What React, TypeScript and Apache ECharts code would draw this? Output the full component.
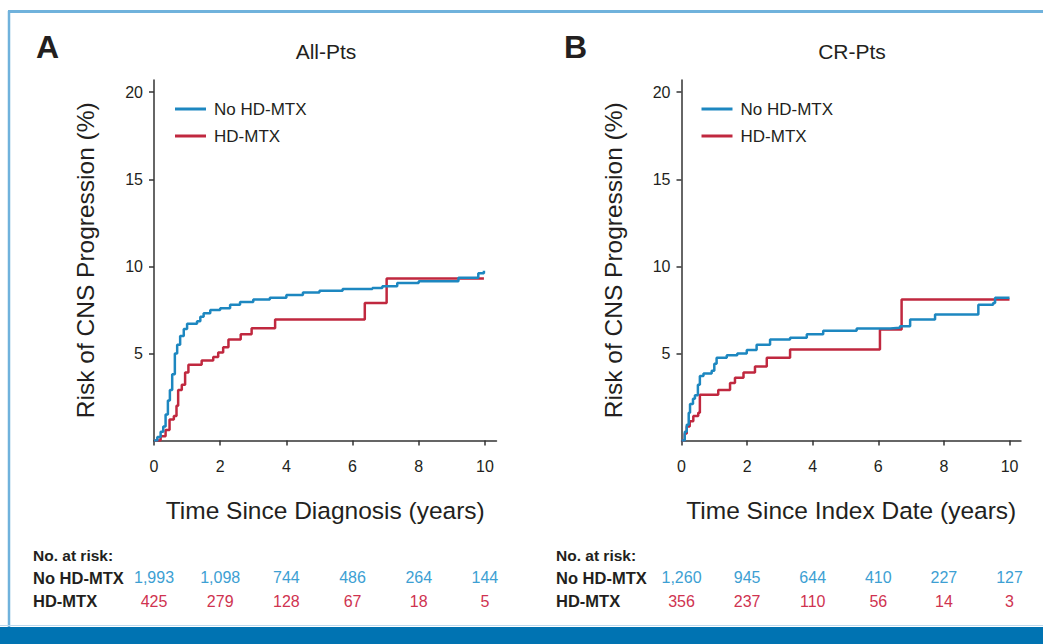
import React, { useEffect, useRef } from 'react';
import * as echarts from 'echarts';

const xTicks = [0, 2, 4, 6, 8, 10];
const yTicks = [5, 10, 15, 20];
const seriesNames = ['No HD-MTX', 'HD-MTX'];
const panelTitles = ['All-Pts', 'CR-Pts'];
const panelLetters = ['A', 'B'];
const xAxisNames = ['Time Since Diagnosis (years)', 'Time Since Index Date (years)'];
const yAxisName = 'Risk of CNS Progression (%)';

// Panel A: cumulative incidence (%) step points [years, %]
const noHdA = [
  [0, 0], [0.1, 0.2], [0.2, 0.5], [0.28, 0.8], [0.35, 1.5], [0.42, 2.3], [0.48, 2.9],
  [0.55, 3.8], [0.63, 5.0], [0.7, 5.5], [0.79, 6.0], [0.9, 6.4], [1.0, 6.7], [1.3, 6.85],
  [1.4, 7.1], [1.5, 7.3], [1.7, 7.5], [2.0, 7.6], [2.3, 7.8], [2.6, 7.95], [3.0, 8.1],
  [3.5, 8.2], [4.0, 8.35], [4.5, 8.5], [5.0, 8.6], [5.7, 8.7], [6.6, 8.75], [6.9, 8.85],
  [7.35, 9.05], [8.0, 9.15], [9.2, 9.35], [9.8, 9.6], [9.97, 9.75],
];
const hdA = [
  [0, 0], [0.2, 0.25], [0.35, 0.6], [0.47, 1.2], [0.6, 1.4], [0.68, 2.0], [0.73, 2.9],
  [0.84, 3.2], [0.94, 3.9], [1.04, 4.35], [1.44, 4.6], [1.79, 4.8], [1.94, 5.05],
  [2.09, 5.35], [2.25, 5.8], [2.62, 6.1], [2.95, 6.45], [3.66, 6.95], [6.37, 7.9],
  [7.03, 9.3], [9.97, 9.3],
];
// Panel B
const noHdB = [
  [0, 0], [0.1, 0.5], [0.16, 0.9], [0.22, 1.6], [0.26, 2.1], [0.35, 2.4], [0.41, 2.6],
  [0.5, 3.2], [0.56, 3.7], [0.67, 3.85], [0.92, 4.0], [1.0, 4.4], [1.07, 4.75],
  [1.38, 4.9], [1.7, 5.0], [1.99, 5.2], [2.29, 5.5], [2.7, 5.8], [3.31, 5.9], [3.82, 6.1],
  [4.32, 6.3], [5.34, 6.43], [6.36, 6.47], [6.66, 6.56], [6.97, 6.95], [7.73, 7.23],
  [8.9, 7.23], [9.05, 7.8], [9.5, 7.9], [9.56, 8.2], [10.0, 8.2],
];
const hdB = [
  [0, 0], [0.1, 0.4], [0.16, 0.8], [0.25, 1.1], [0.36, 1.4], [0.51, 1.6], [0.56, 2.62],
  [1.12, 2.9], [1.48, 3.3], [1.63, 3.6], [1.89, 3.9], [2.24, 4.25], [2.6, 4.75],
  [3.31, 5.22], [6.05, 6.37], [6.71, 8.1], [10.0, 8.1],
];

const riskTimes = [0, 2, 4, 6, 8, 10];
const riskNoHdA = ['1,993', '1,098', '744', '486', '264', '144'];
const riskHdA = ['425', '279', '128', '67', '18', '5'];
const riskNoHdB = ['1,260', '945', '644', '410', '227', '127'];
const riskHdB = ['356', '237', '110', '56', '14', '3'];

const BLUE = '#1d87c0';
const RED = '#c0283f';
const BLUE_TXT = '#3d9fd3';
const RED_TXT = '#cf3350';
const INK = '#231f20';
const SANS = '"Liberation Sans", Arial, Helvetica, sans-serif';

export default function App() {
  const ref = useRef<HTMLDivElement>(null);

  useEffect(() => {
    if (!ref.current) return;
    const chart = echarts.init(ref.current, undefined, { renderer: 'svg' });

    const grids = [
      { left: 154, top: 80, width: 342.5, height: 360.5 },
      { left: 681.5, top: 80, width: 339.5, height: 360.5 },
    ];

    const xAxes = [0, 1].map((i) => ({
      type: 'value',
      gridIndex: i,
      min: 0,
      max: 10.35,
      name: xAxisNames[i],
      nameLocation: 'middle',
      nameGap: 57,
      nameTextStyle: { fontSize: 24.5, fontFamily: SANS, color: INK },
      axisLine: { show: true, lineStyle: { color: '#333', width: 1.5 } },
      axisTick: { show: true, length: 5, customValues: xTicks, lineStyle: { color: '#333', width: 1.5 } },
      axisLabel: { customValues: xTicks, margin: 18, fontSize: 16, fontFamily: SANS, color: INK },
      splitLine: { show: false },
    }));

    const yAxes = [0, 1].map((i) => ({
      type: 'value',
      gridIndex: i,
      min: 0,
      max: 20.7,
      name: yAxisName,
      nameLocation: 'middle',
      nameGap: 56,
      nameTextStyle: { fontSize: 24.5, fontFamily: SANS, color: INK },
      axisLine: { show: true, lineStyle: { color: '#333', width: 1.5 } },
      axisTick: { show: true, length: 5, customValues: yTicks, lineStyle: { color: '#333', width: 1.5 } },
      axisLabel: { customValues: yTicks, margin: 11, fontSize: 16, fontFamily: SANS, color: INK },
      splitLine: { show: false },
    }));

    const mk = (name: string, data: number[][], idx: number, color: string) => ({
      type: 'line',
      name,
      data,
      step: 'end',
      xAxisIndex: idx,
      yAxisIndex: idx,
      showSymbol: false,
      color,
      lineStyle: { color, width: 2.5 },
      z: color === BLUE ? 3 : 2,
    });

    const legends = [170, 696.5].map((left) => ({
      left,
      top: 95.5,
      orient: 'vertical',
      data: seriesNames,
      icon: 'rect',
      itemWidth: 31,
      itemHeight: 3,
      itemGap: 10,
      selectedMode: false,
      textStyle: { fontSize: 17, fontFamily: SANS, color: INK, padding: [0, 0, 0, 3] },
    }));

    chart.setOption({
      animation: false,
      backgroundColor: '#ffffff',
      grid: grids,
      xAxis: xAxes,
      yAxis: yAxes,
      legend: legends,
      series: [
        mk(seriesNames[0], noHdA, 0, BLUE),
        mk(seriesNames[1], hdA, 0, RED),
        mk(seriesNames[0], noHdB, 1, BLUE),
        mk(seriesNames[1], hdB, 1, RED),
      ],
    });

    const txt = (id: string, text: string, x: number, y: number, opts: any = {}) => ({
      type: 'text',
      id,
      x,
      y,
      silent: true,
      style: {
        text,
        fill: opts.fill || INK,
        fontSize: opts.fontSize || 16,
        fontFamily: opts.fontFamily || SANS,
        fontWeight: opts.fontWeight || 'normal',
        align: opts.align || 'left',
        textAlign: opts.align || 'left',
        verticalAlign: 'middle',
        textVerticalAlign: 'middle',
      },
    });

    const elements: any[] = [
      { type: 'line', id: 'frameTop', shape: { x1: 8, y1: 11.5, x2: 1043, y2: 11.5 }, style: { stroke: '#70b2dc', lineWidth: 3 } },
      { type: 'line', id: 'frameLeft', shape: { x1: 9, y1: 11, x2: 9, y2: 627 }, style: { stroke: '#70b2dc', lineWidth: 2.5 } },
      { type: 'line', id: 'bandEdge', shape: { x1: 0, y1: 625.5, x2: 1043, y2: 625.5 }, style: { stroke: '#bcd8ec', lineWidth: 1 } },
      { type: 'rect', id: 'band', shape: { x: 0, y: 627, width: 1043, height: 17 }, style: { fill: '#0073b2' } },
      txt('letterA', panelLetters[0], 36, 47, { fontSize: 32, fontWeight: 'bold' }),
      txt('letterB', panelLetters[1], 564, 47, { fontSize: 32, fontWeight: 'bold' }),
      txt('titleA', panelTitles[0], 326, 51, { fontSize: 21, align: 'center' }),
      txt('titleB', panelTitles[1], 852, 51, { fontSize: 21, align: 'center' }),
    ];

    const tables = [
      { idx: 0, left: 33, noHd: riskNoHdA, hd: riskHdA },
      { idx: 1, left: 556, noHd: riskNoHdB, hd: riskHdB },
    ];
    tables.forEach((t) => {
      elements.push(txt('risk' + t.idx, 'No. at risk:', t.left, 555, { fontSize: 15.5, fontWeight: 'bold' }));
      elements.push(txt('rowNo' + t.idx, seriesNames[0], t.left, 577.5, { fontSize: 16.5, fontWeight: 'bold' }));
      elements.push(txt('rowHd' + t.idx, seriesNames[1], t.left, 601, { fontSize: 16.5, fontWeight: 'bold' }));
      riskTimes.forEach((time, k) => {
        const px = chart.convertToPixel({ xAxisIndex: t.idx }, time) as number;
        elements.push(txt(`n${t.idx}_${k}`, t.noHd[k], px, 577.5, { fontSize: 16, fill: BLUE_TXT, align: 'center' }));
        elements.push(txt(`h${t.idx}_${k}`, t.hd[k], px, 601, { fontSize: 16, fill: RED_TXT, align: 'center' }));
      });
    });

    chart.setOption({ graphic: { elements } });

    return () => chart.dispose();
  }, []);

  return <div ref={ref} style={{ position: 'fixed', left: 0, top: 0, width: 1043, height: 644 }} />;
}
